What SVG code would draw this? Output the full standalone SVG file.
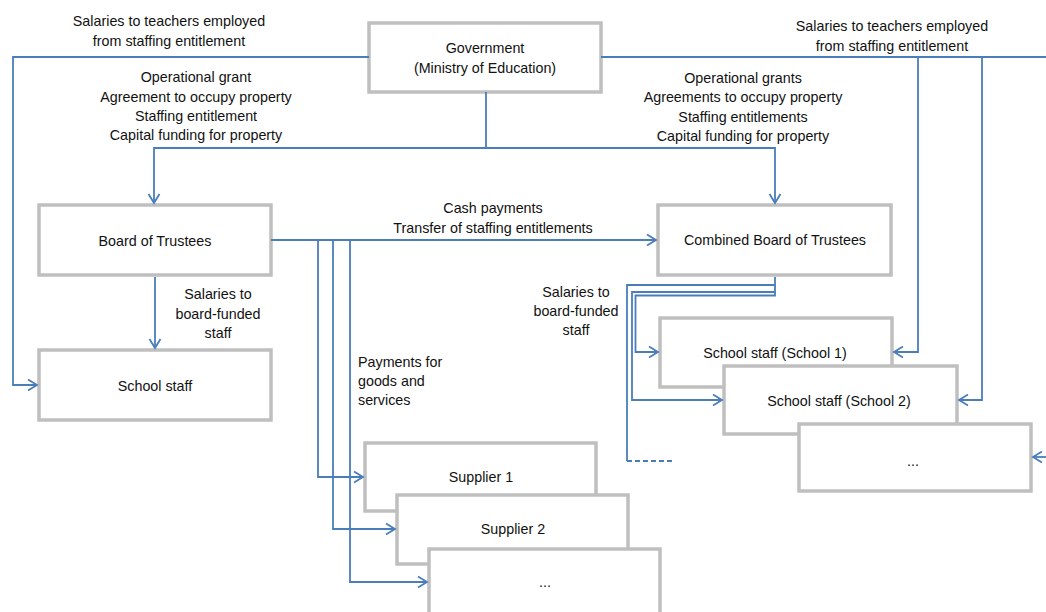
<svg xmlns="http://www.w3.org/2000/svg" width="1046" height="612" viewBox="0 0 1046 612">
<defs>
<style>
.box{fill:#fff;stroke:#bfbfbf;stroke-width:3.5}
.t{font-family:"Liberation Sans",Arial,sans-serif;font-size:14.3px;fill:#111;text-anchor:middle}
.tl{text-anchor:start}
.c{fill:none;stroke:#4a7ebb;stroke-width:1.8}
.a{marker-end:url(#arr)}
.d{stroke-dasharray:5,3}
</style>
<marker id="arr" markerUnits="userSpaceOnUse" markerWidth="14" markerHeight="14" refX="11" refY="7" orient="auto">
<path d="M2,1.5 L11,7 L2,12.5" fill="none" stroke="#4a7ebb" stroke-width="1.8"/>
</marker>
</defs>
<rect width="1046" height="612" fill="#fff"/>

<g id="government"><rect class="box" x="369" y="23" width="232" height="69"/>
<text class="t" x="485" y="53">Government</text><text class="t" x="485" y="73">(Ministry of Education)</text></g>

<g id="board"><rect class="box" x="39" y="205" width="232" height="70"/>
<text class="t" x="155" y="246">Board of Trustees</text></g>

<g id="school-staff"><rect class="box" x="39" y="350" width="232" height="70"/>
<text class="t" x="155" y="391">School staff</text></g>

<g id="combined"><rect class="box" x="658" y="205" width="233" height="70"/>
<text class="t" x="775" y="245">Combined Board of Trustees</text></g>

<g id="school1"><rect class="box" x="660" y="318" width="232" height="69"/>
<text class="t" x="775" y="358">School staff (School 1)</text></g>

<g id="school2"><rect class="box" x="724" y="366" width="233" height="68"/>
<text class="t" x="839" y="406">School staff (School 2)</text></g>

<g id="school-more"><rect class="box" x="799" y="424" width="232" height="67"/>
<text class="t" x="913" y="466">...</text></g>

<g id="supplier1"><rect class="box" x="365" y="443" width="231" height="68"/>
<text class="t" x="481" y="482">Supplier 1</text></g>

<g id="supplier2"><rect class="box" x="397" y="495" width="231" height="69"/>
<text class="t" x="513" y="534">Supplier 2</text></g>

<g id="supplier-more"><rect class="box" x="429" y="549" width="231" height="72"/>
<text class="t" x="545" y="587">...</text></g>

<g id="connectors">
<path class="c a" d="M369,57 H13 V385 H37"/>
<path class="c" d="M601,57 H1046"/>
<path class="c a" d="M918,57 V352 H894"/>
<path class="c a" d="M982,57 V400 H959"/>
<path class="c a" d="M1046,457 H1033"/>
<path class="c" d="M486,92 V148"/>
<path class="c a" d="M486,148 H154 V203"/>
<path class="c a" d="M486,148 H775 V203"/>
<path class="c a" d="M155,277 V348"/>
<path class="c a" d="M271,240 H656"/>
<path class="c a" d="M318,240 V477 H363"/>
<path class="c a" d="M333,240 V529 H395"/>
<path class="c a" d="M350,240 V582 H427"/>
<path class="c" d="M775,277 V285 H627 V461"/>
<path class="c d" d="M627,461 H674"/>
<path class="c a" d="M775,285 V292 H632 V400 H722"/>
<path class="c a" d="M775,292 V295.5 H635.5 V352 H658"/>
</g>

<g id="labels">
<text class="t" x="169" y="26">Salaries to teachers employed</text>
<text class="t" x="169" y="46">from staffing entitlement</text>
<text class="t" x="892" y="30.5">Salaries to teachers employed</text>
<text class="t" x="892" y="50.5">from staffing entitlement</text>
<text class="t" x="196" y="82">Operational grant</text>
<text class="t" x="196" y="101.5">Agreement to occupy property</text>
<text class="t" x="196" y="121">Staffing entitlement</text>
<text class="t" x="196" y="140">Capital funding for property</text>
<text class="t" x="743" y="82.5">Operational grants</text>
<text class="t" x="743" y="102">Agreements to occupy property</text>
<text class="t" x="743" y="121.5">Staffing entitlements</text>
<text class="t" x="743" y="141">Capital funding for property</text>
<text class="t" x="493" y="213">Cash payments</text>
<text class="t" x="493" y="233">Transfer of staffing entitlements</text>
<text class="t" x="218" y="299">Salaries to</text>
<text class="t" x="218" y="318.5">board-funded</text>
<text class="t" x="218" y="338">staff</text>
<text class="t" x="576" y="297">Salaries to</text>
<text class="t" x="576" y="316">board-funded</text>
<text class="t" x="576" y="335">staff</text>
<text class="t tl" x="358" y="367">Payments for</text>
<text class="t tl" x="358" y="386">goods and</text>
<text class="t tl" x="358" y="405">services</text>
</g>
</svg>
